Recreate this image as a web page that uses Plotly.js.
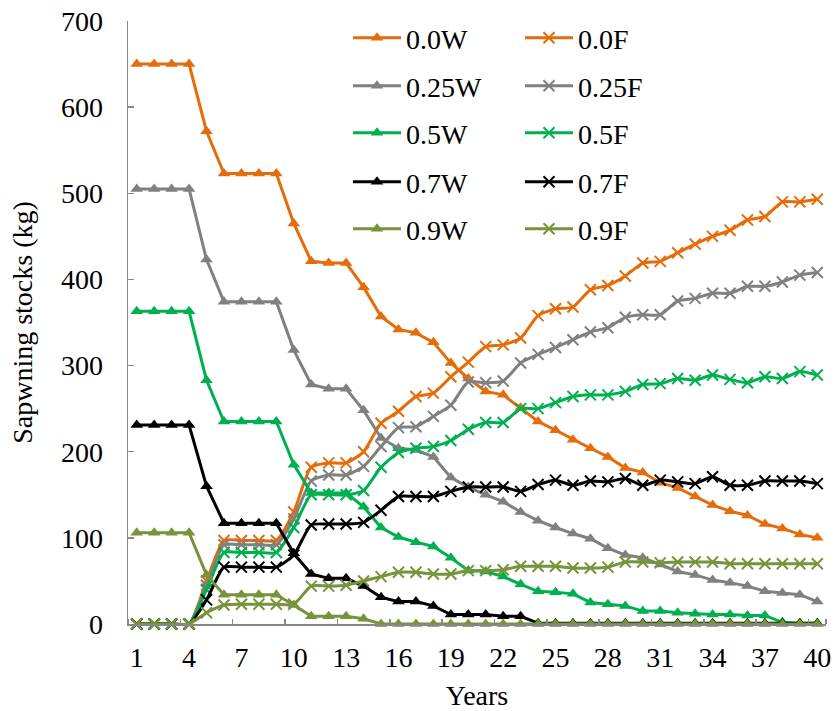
<!DOCTYPE html>
<html>
<head>
<meta charset="utf-8">
<script src="https://cdn.plot.ly/plotly-3.0.1.min.js"></script>
<style>
html,body{margin:0;padding:0;background:#fff;}
#chart{width:835px;height:711px;}
</style>
</head>
<body>
<div id="chart"></div>
<script>
// ---- data ----
var years = [1,2,3,4,5,6,7,8,9,10,11,12,13,14,15,16,17,18,19,20,21,22,23,24,25,26,27,28,29,30,31,32,33,34,35,36,37,38,39,40];
var tickYears  = [1,4,7,10,13,16,19,22,25,28,31,34,37,40];
var tickLabels = ['1','4','7','10','13','16','19','22','25','28','31','34','37','40'];
var tickBounds = [0.5,3.5,6.5,9.5,12.5,15.5,18.5,21.5,24.5,27.5,30.5,33.5,36.5,39.5,40.5];

var w00 = [650,650,650,650,572,523,523,523,523,465,421,419,419,391,357,342,338,327,303,285,270,266,251,235,225,214,204,194,181,176,164,158,148,138,131,126,116,111,104,100];
var f00 = [0,0,0,0,50,97,97,97,97,130,182,187,187,200,233,247,264,268,287,304,322,324,332,358,366,368,388,393,404,419,421,431,441,450,457,469,473,490,490,493];
var w25 = [505,505,505,505,423,374,374,374,374,318,278,273,273,248,216,204,202,194,170,159,150,142,130,120,112,105,99,88,80,77,69,61,57,51,48,44,38,36,34,26];
var f25 = [0,0,0,0,45,92,92,92,92,122,166,173,173,183,206,228,229,241,254,281,280,282,303,313,321,330,339,344,356,359,359,375,378,384,384,392,392,397,405,408];
var w50 = [363,363,363,363,283,235,235,235,235,185,152,152,152,136,112,101,95,90,77,62,61,55,46,38,37,35,25,23,21,15,15,13,12,11,11,10,10,2,1,1];
var f50 = [0,0,0,0,40,83,83,83,83,112,150,150,150,155,182,199,204,206,213,226,234,234,250,250,257,264,266,266,270,278,279,285,283,289,284,280,287,285,293,289];
var w70 = [231,231,231,231,160,117,117,117,117,82,58,53,53,44,31,26,26,21,11,11,11,9,9,1,1,1,1,1,1,1,1,1,1,1,1,1,1,1,1,1];
var f70 = [0,0,0,0,28,66,66,66,66,80,115,116,116,118,132,148,148,148,154,159,159,159,154,162,167,161,166,165,169,161,167,165,163,171,161,161,166,166,166,163];
var w90 = [106,106,106,106,57,34,34,34,34,22,9,9,9,6,0,0,0,0,0,0,0,0,0,0,0,0,0,0,0,0,0,0,0,0,0,0,0,0,0,0];
var f90 = [0,0,0,0,13,22,23,23,23,23,44,44,45,50,55,60,60,58,58,62,62,63,67,67,67,65,65,66,72,72,71,72,72,72,70,70,70,70,70,70];

var seriesNames = ['0.0W','0.0F','0.25W','0.25F','0.5W','0.5F','0.7W','0.7F','0.9W','0.9F'];
var seriesData  = [w00,f00,w25,f25,w50,f50,w70,f70,w90,f90];
var seriesColors = ['#E46C0A','#E46C0A','#808080','#808080','#00B050','#00B050','#000000','#000000','#77933C','#77933C'];

// ---- legend placement (pixels in the 835x711 page) ----
var L = 128, R = 826, T = 21, B = 624;
var colPx = [348, 520];
var rowPx = [38, 86, 133, 182, 229];

var FONT = 'Liberation Serif, Times New Roman, serif';
var traces = [];
var layout = {
  width: 835, height: 711,
  margin: {l: L, r: 835 - R, t: T, b: 711 - B, pad: 0},
  paper_bgcolor: '#ffffff', plot_bgcolor: '#ffffff',
  font: {family: FONT, size: 28, color: '#000000'},
  showlegend: true,
  xaxis: {
    type: 'linear', range: [0.5, 40.5],
    tickmode: 'array', tickvals: tickYears, ticktext: tickLabels,
    ticks: '', showgrid: false, zeroline: false,
    showline: true, linecolor: '#878787', linewidth: 1.5,
    ticklabelstandoff: 8,
    tickfont: {family: FONT, size: 28, color: '#000'},
    minor: {tickmode: 'array', tickvals: tickBounds, ticks: 'inside', ticklen: 5, tickwidth: 1.5, tickcolor: '#878787', showgrid: false},
    title: {text: 'Years', font: {family: FONT, size: 28, color: '#000'}, standoff: 14}
  },
  yaxis: {
    range: [0, 700], tickmode: 'linear', tick0: 0, dtick: 100,
    ticks: 'inside', ticklen: 6, tickwidth: 1.5, tickcolor: '#878787',
    showgrid: false, zeroline: false,
    showline: true, linecolor: '#878787', linewidth: 1.5,
    ticklabelstandoff: 18,
    tickfont: {family: FONT, size: 28, color: '#000'},
    title: {text: 'Sapwning stocks (kg)', font: {family: FONT, size: 28, color: '#000'}, standoff: 20}
  }
};

for (var i = 0; i < seriesNames.length; i++) {
  var isF = (i % 2 === 1);
  var legKey = i === 0 ? 'legend' : 'legend' + (i + 1);
  traces.push({
    type: 'scatter', mode: 'lines+markers',
    x: years, y: seriesData[i], name: seriesNames[i],
    legend: legKey,
    line: {color: seriesColors[i], width: 3, shape: isF ? 'spline' : 'linear', smoothing: 0.6},
    marker: isF
      ? {symbol: 'x-thin', size: 11, color: seriesColors[i], line: {color: seriesColors[i], width: 2}}
      : {symbol: 'triangle-up', size: 11, color: seriesColors[i], line: {width: 0}},
    cliponaxis: false
  });
  var col = i % 2, row = Math.floor(i / 2);
  layout[legKey] = {
    x: (colPx[col] - L) / (R - L),
    y: (B - rowPx[row]) / (B - T),
    xanchor: 'left', yanchor: 'middle',
    bgcolor: 'rgba(0,0,0,0)', borderwidth: 0,
    itemwidth: 48,
    font: {family: FONT, size: 28, color: '#000'}
  };
}

Plotly.newPlot('chart', traces, layout, {displayModeBar: false, staticPlot: true});
</script>
</body>
</html>
